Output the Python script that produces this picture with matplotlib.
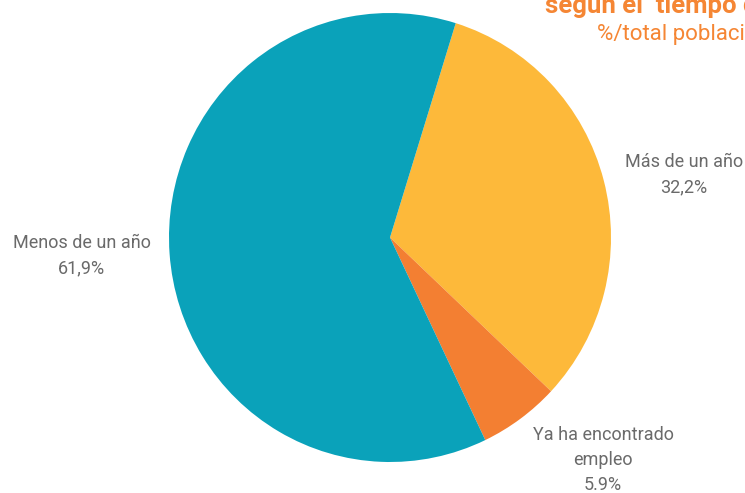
import numpy as np
import matplotlib.pyplot as plt

# datos del gráfico
categorias = ['Más de un año', 'Ya ha encontrado\nempleo', 'Menos de un año']
valores = [32.2, 5.9, 61.9]
etiquetas_pct = ['32,2%', '5.9%', '61,9%']
colores = ['#FDB93A', '#F37F32', '#0AA2BA']

fig = plt.figure(figsize=(7.45, 4.93), dpi=100)
W, H = 745, 493
cx, cy, rx, ry = 390, 237.5, 221, 224.5
ax = fig.add_axes([(cx - rx) / W, (H - cy - ry) / H, 2 * rx / W, 2 * ry / H])

ax.pie(valores, colors=colores, startangle=72.7, counterclock=False,
       wedgeprops={'linewidth': 0})
ax.set_xlim(-1, 1)
ax.set_ylim(-1, 1)
ax.set_aspect('auto')
ax.axis('off')

# posiciones de las etiquetas (coordenadas del pie)
pos_etiquetas = [(1.33, 0.28), (0.964, -0.99), (-1.394, -0.08)]
for cat, pct, (x, y) in zip(categorias, etiquetas_pct, pos_etiquetas):
    ax.text(x, y, cat + '\n' + pct, ha='center', va='center', fontsize=13,
            color='#6a6a6a', family='Roboto', linespacing=1.5, clip_on=False)

# titulo (cortado a la derecha como en el original)
fig.text(545 / W, 1 - 13 / H, 'según el  tiempo de búsqueda', fontsize=18.5, weight='bold',
         color='#F58634', family='Roboto', ha='left', va='baseline')
fig.text(597 / W, 1 - 40 / H, '%/total población desempleada', fontsize=16,
         color='#F58634', family='Roboto', ha='left', va='baseline')

fig.savefig('out.png', dpi=100)
